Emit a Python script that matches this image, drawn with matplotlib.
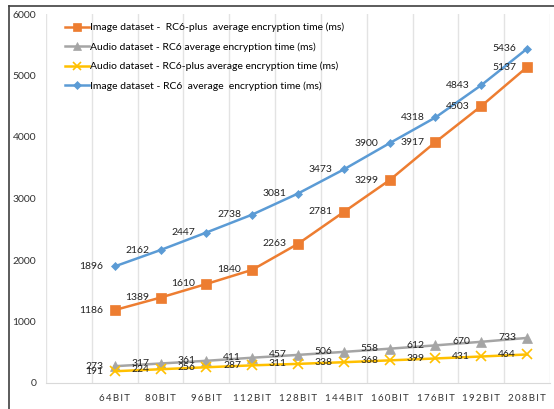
import numpy as np
import matplotlib.pyplot as plt
from matplotlib.lines import Line2D

plt.rcParams['font.family'] = ['Lato', 'DejaVu Sans']

#--- key sizes, first slot left empty like the original sheet
key_sizes = ["", "64BIT", "80BIT", "96BIT", "112BIT", "128BIT",
             "144BIT", "160BIT", "176BIT", "192BIT", "208BIT"]

# average encryption times (ms)
image_rc6plus = [1186, 1389, 1610, 1840, 2263, 2781, 3299, 3917, 4503, 5137]
audio_rc6 = [273, 317, 361, 411, 457, 506, 558, 612, 670, 733]
audio_rc6plus = [191, 224, 256, 287, 311, 338, 368, 399, 431, 464]
image_rc6 = [1896, 2162, 2447, 2738, 3081, 3473, 3900, 4318, 4843, 5436]

series = [
    ("Image dataset -  RC6-plus  average encryption time (ms)", image_rc6plus, "#ED7D31", "s", 7),
    ("Audio dataset - RC6 average encryption time (ms)", audio_rc6, "#A5A5A5", "^", 7),
    ("Audio dataset - RC6-plus average encryption time (ms)", audio_rc6plus, "#FFC000", "x", 7),
    ("Image dataset - RC6  average  encryption time (ms)", image_rc6, "#5B9BD5", "D", 4.5),
]

fig = plt.figure(figsize=(5.54, 4.09), dpi=100)
ax = fig.add_axes([46/554, 1-383/409, 504/554, 369/409])

x = np.arange(1, len(key_sizes))
for name, vals, col, mk, ms in series:
    ax.plot(x, vals, color=col, lw=1.8, marker=mk, markersize=ms,
            markeredgewidth=1.2 if mk == "x" else 0.5, label=name)
    for xi, v in zip(x, vals):
        ax.annotate(str(v), (xi, v), xytext=(-8, 0), textcoords="offset points",
                    ha="right", va="center", fontsize=7.5, color="#222222")

ax.set_xlim(-0.5, len(key_sizes) - 0.5)
ax.set_ylim(0, 6000)
ax.set_yticks(range(0, 6001, 1000))
ax.set_xticks(x)
# spaced-out letters like the original axis labels
ax.set_xticklabels(["\u2009".join(k) for k in key_sizes[1:]], fontsize=7, color="#333333")
ax.set_xticks(np.arange(-0.5, len(key_sizes)), minor=True)
ax.grid(True, which="minor", axis="x", color="#E3E3E3", lw=1)
ax.tick_params(axis="both", which="both", length=0)
ax.tick_params(axis="x", pad=8)
ax.tick_params(axis="y", pad=7, labelsize=7.5, labelcolor="#333333")
for s in ["top", "right", "left"]:
    ax.spines[s].set_visible(False)
ax.spines["bottom"].set_color("#D9D9D9")

ax.legend(loc="upper left", bbox_to_anchor=(0.028, 0.99), frameon=False,
          fontsize=7.5, handlelength=2.3, handletextpad=0.1, labelspacing=0.95,
          borderpad=0, markerscale=0.8)

# outer frame (top and left edges only are visible)
fig.add_artist(Line2D([9/554, 9/554], [0, 1-5.5/409], color="#404040", lw=1.2))
fig.add_artist(Line2D([9/554, 1], [1-5.5/409, 1-5.5/409], color="#404040", lw=1.2))

fig.savefig("out.png", dpi=100)
